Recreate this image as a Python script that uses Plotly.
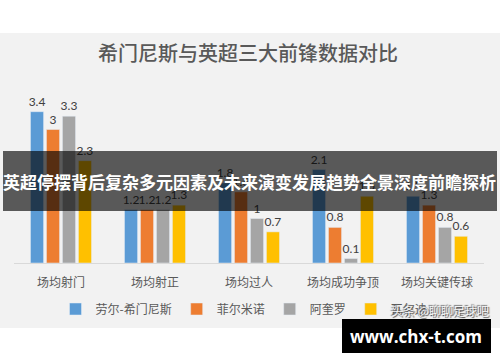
import plotly.graph_objects as go

categories = ["场均射门", "场均射正", "场均过人", "场均成功争顶", "场均关键传球"]
players = ["劳尔-希门尼斯", "菲尔米诺", "阿奎罗", "瓦尔迪"]
jimenez = [3.4, 1.2, 1.8, 2.1, 1.5]
firmino = [3, 1.2, 1.6, 0.8, 1.3]
aguero = [3.3, 1.2, 1, 0.1, 0.8]
vardy = [2.3, 1.3, 0.7, 1.5, 0.6]
colors = ["#5B9BD5", "#ED7D31", "#A5A5A5", "#FFC000"]

title_text = "希门尼斯与英超三大前锋数据对比"
banner_text = "英超停摆背后复杂多元因素及未来演变发展趋势全景深度前瞻探析"
watermark_text = "头条 @聊聊足球吧"
site_text = "www.chx-t.com"

W, H = 500, 362
L, R, T, B = 14, 16, 85, 99
PW = W - L - R
PH = H - T - B


def px(x):
    return (x - L) / PW


def py(y):
    return (H - B - y) / PH


fig = go.Figure()
for name, vals, col in zip(players, [jimenez, firmino, aguero, vardy], colors):
    fig.add_bar(
        x=categories, y=vals, name=name, marker_color=col,
        texttemplate="%{y}", textposition="outside", cliponaxis=False,
        constraintext="none",
        textfont=dict(size=12, color="#404040", family="Lato"),
    )

CJK = "Noto Sans CJK SC"
fig.update_layout(
    width=W, height=H,
    margin=dict(l=L, r=R, t=T, b=B, autoexpand=False),
    paper_bgcolor="white",
    plot_bgcolor="rgba(0,0,0,0)",
    barmode="group", bargap=0.32, bargroupgap=0.18,
    title=dict(text=title_text, x=248 / W, xanchor="center",
               y=1 - 54 / H, yanchor="middle",
               font=dict(family=CJK, size=20, color="#595959", weight=500)),
    xaxis=dict(type="category", showline=True, linecolor="#d9d9d9",
               linewidth=1, ticks="", showgrid=False, ticklabelstandoff=9,
               tickfont=dict(family=CJK, size=12, color="#595959")),
    yaxis=dict(visible=False, range=[0, 4]),
    legend=dict(orientation="h", x=px(244), xanchor="center",
                y=py(309), yanchor="middle", itemwidth=30,
                bgcolor="rgba(0,0,0,0)",
                font=dict(family=CJK, size=12, color="#595959")),
    showlegend=True,
    shapes=[
        dict(type="rect", xref="paper", yref="paper", layer="below",
             x0=px(0), x1=px(500), y0=py(328), y1=py(33),
             fillcolor="#f2f2f2", line=dict(width=0)),
        dict(type="rect", xref="paper", yref="paper", layer="above",
             x0=px(3), x1=px(497), y0=py(211), y1=py(151),
             fillcolor="rgba(0,0,0,0.63)", line=dict(width=0)),
        dict(type="rect", xref="paper", yref="paper", layer="above",
             x0=px(342), x1=px(491), y0=py(353), y1=py(319),
             fillcolor="black", line=dict(width=0)),
    ],
    annotations=[
        dict(text="<b>" + banner_text + "</b>", xref="paper", yref="paper",
             x=px(250), y=py(181), xanchor="center", yanchor="middle",
             showarrow=False,
             font=dict(family=CJK, size=17, color="white")),
        dict(text=watermark_text, xref="paper", yref="paper",
             x=px(440), y=py(310), xanchor="center", yanchor="middle",
             showarrow=False,
             font=dict(family=CJK, size=12, color="#f4f4f4",
                       shadow="1px 1px 1px #444, -1px -1px 1px #777")),
        dict(text="<b>" + site_text + "</b>", xref="paper", yref="paper",
             x=px(416), y=py(336), xanchor="center", yanchor="middle",
             showarrow=False,
             font=dict(family="Open Sans", size=17, color="white")),
    ],
)

fig.write_html("out.html", config={"displayModeBar": False},
               post_script="document.body.style.margin='0';")
